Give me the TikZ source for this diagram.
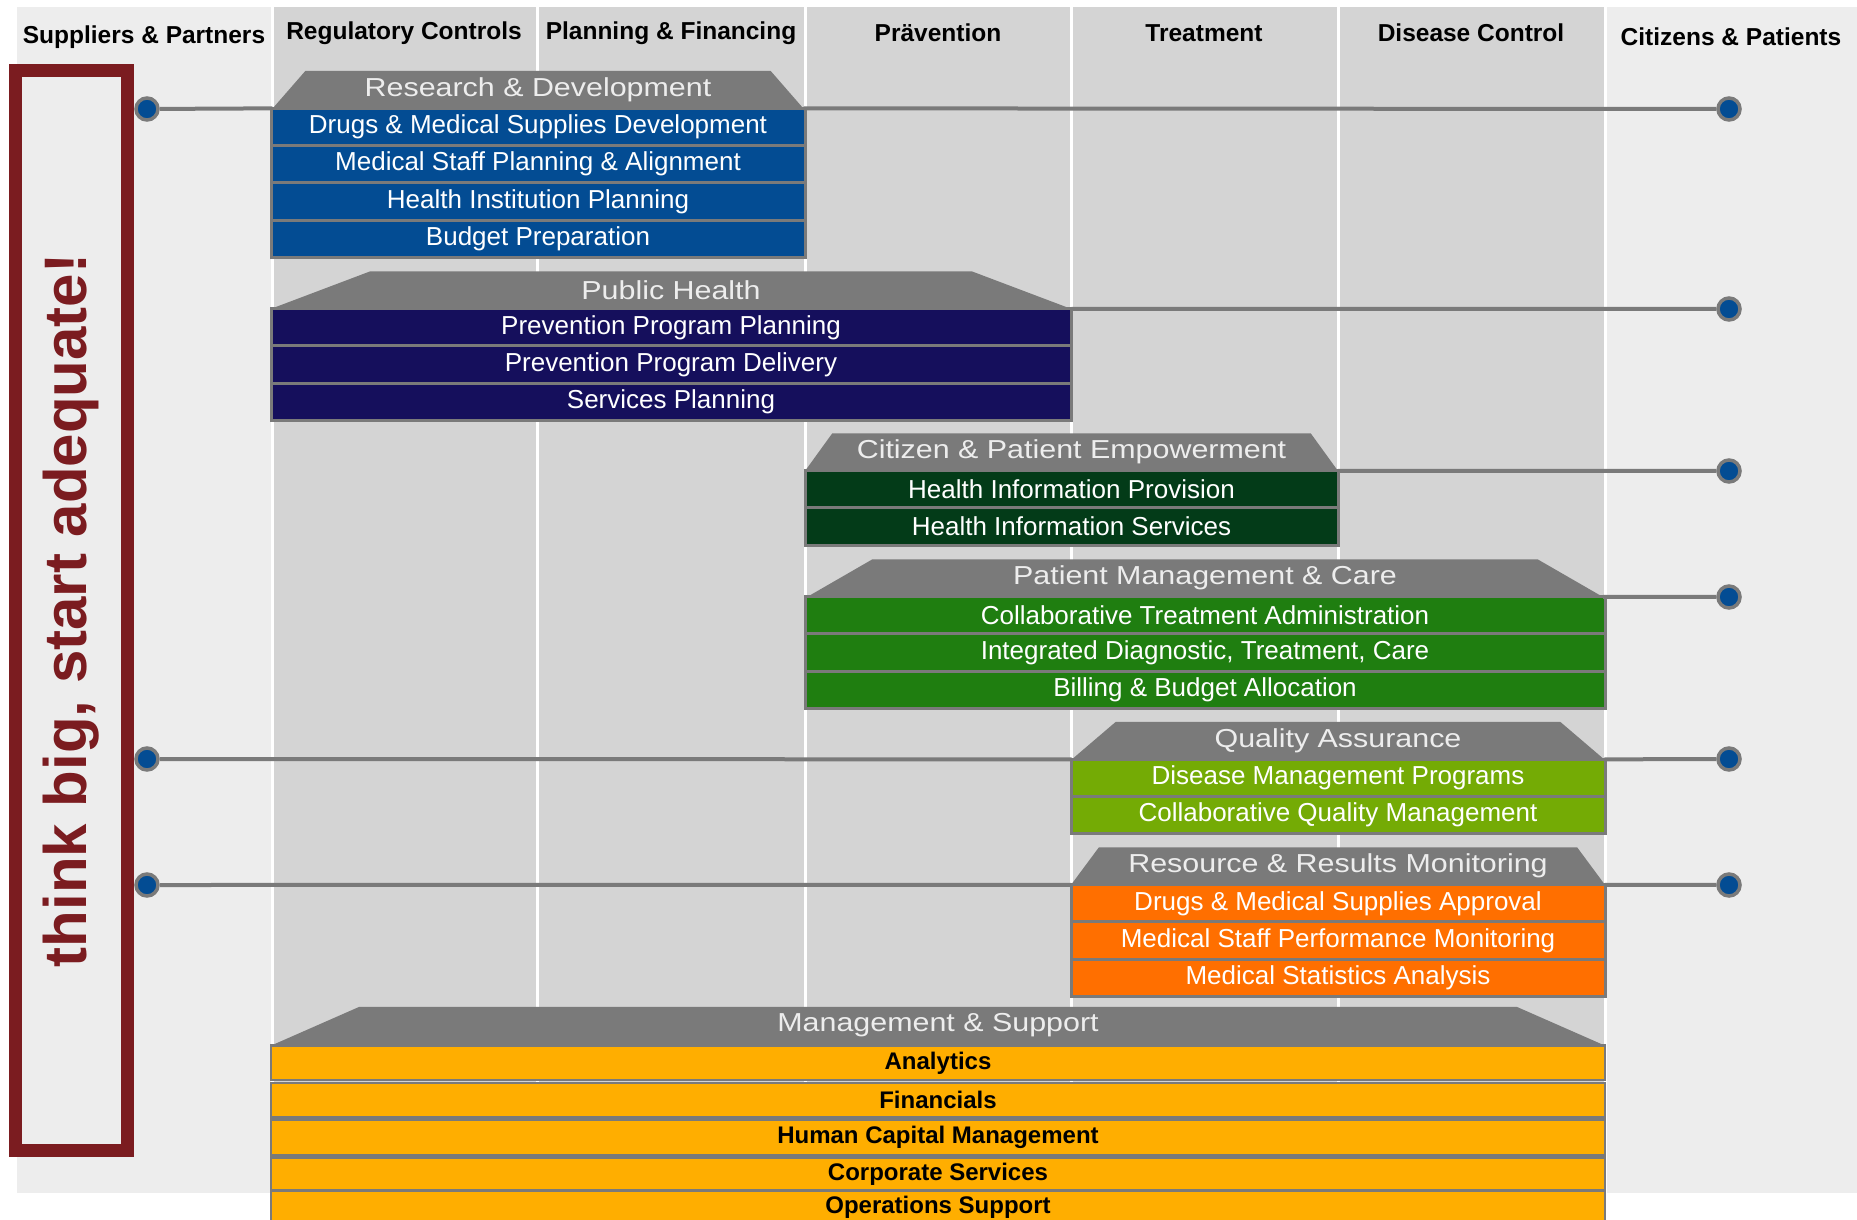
\documentclass[tikz,border=0pt]{standalone}
\usepackage{fontspec}
\setmainfont{Liberation Sans}
\newfontfamily\rooffont[FakeStretch=1.17]{Liberation Sans}
\usepackage{tikz}
\usetikzlibrary{shapes,arrows,calc}
\definecolor{lightbg}{HTML}{EDEDED}
\definecolor{darkbg}{HTML}{D4D4D4}
\definecolor{frame}{HTML}{7A7A7A}
\definecolor{wine}{HTML}{7B1C20}
\definecolor{rdblue}{HTML}{034C93}
\definecolor{phnavy}{HTML}{150F5C}
\definecolor{cpgreen}{HTML}{033B18}
\definecolor{pmgreen}{HTML}{1F7E10}
\definecolor{qagreen}{HTML}{74AB05}
\definecolor{rmorange}{HTML}{FF6F00}
\definecolor{msyellow}{HTML}{FFAE00}
\definecolor{logoblue}{HTML}{0A3066}
\tikzstyle{line} = [draw=frame, line width=4pt]
\tikzstyle{sepline} = [draw=white, line width=3pt]
\tikzstyle{head} = [font=\fontsize{24.5}{28}\selectfont\bfseries, inner sep=0pt]
\tikzstyle{roof} = [trapezium, trapezium stretches=true, fill=frame, inner sep=0pt, minimum height=37.3pt, text=lightbg, font=\fontsize{26}{30}\rooffont]
\tikzstyle{rowbox} = [draw=frame, line width=3pt, rectangle, text centered, inner sep=0pt, minimum height=37.3pt, text=white, font=\fontsize{26}{30}\selectfont, node distance=37.3pt]
\tikzstyle{msbox} = [rowbox, line width=2.4pt, minimum height=34.6pt, fill=msyellow, text=black, font=\fontsize{24}{28}\selectfont\bfseries]
\tikzstyle{dot} = [draw=frame, fill=rdblue, circle, line width=3.5pt, inner sep=0pt, minimum size=22pt]
\begin{document}
\begin{tikzpicture}[x=1pt, y=-1pt, node distance=37.3pt]
        \useasboundingbox (0,0) rectangle (1857,1220);
        % backgrounds and columns
        \fill[lightbg] (17,7) rectangle (1857,1193);
        \fill[darkbg] (272,7) rectangle (1605,1193);
        \path[sepline] (272,7) -- (272,1193);
        \path[sepline] (537.5,7) -- (537.5,1193);
        \path[sepline] (805,7) -- (805,1193);
        \path[sepline] (1071.5,7) -- (1071.5,1193);
        \path[sepline] (1338,7) -- (1338,1193);
        \path[sepline] (1605,7) -- (1605,1193);
        % column heads
        \node[head] (suppliers) at (144,37) {Suppliers \& Partners};
        \node[head] (regulatory) at (404,33) {Regulatory Controls};
        \node[head] (planning) at (671,33) {Planning \& Financing};
        \node[head] (praevention) at (938,33) {Prävention};
        \node[head] (treatment) at (1204,33) {Treatment};
        \node[head] (control) at (1471,33) {Disease Control};
        \node[head] (citizens) at (1731,37) {Citizens \& Patients};
        % slogan
        \node[draw=wine, fill=lightbg, line width=13pt, rotate=90, minimum width=1079pt, minimum height=111.5pt, inner sep=0pt, text=wine, font=\fontsize{60}{64}\selectfont\bfseries] (slogan) at (71.25,610.5) {think big, start adequate!};
        % research and development
        \node[roof, minimum width=533pt, trapezium left angle=45, trapezium right angle=45] (research) at (538,89.5) {Research \& Development};
        \node[rowbox, fill=rdblue, minimum width=534pt, below of=research] (drugs) {Drugs \& Medical Supplies Development};
        \node[rowbox, fill=rdblue, minimum width=534pt, below of=drugs] (staff) {Medical Staff Planning \& Alignment};
        \node[rowbox, fill=rdblue, minimum width=534pt, below of=staff] (institution) {Health Institution Planning};
        \node[rowbox, fill=rdblue, minimum width=534pt, below of=institution] (budget) {Budget Preparation};
        % public health
        \node[roof, minimum width=800pt, trapezium left angle=33, trapezium right angle=33] (public) at (671,290) {Public Health};
        \node[rowbox, fill=phnavy, minimum width=800pt, below of=public] (progplan) {Prevention Program Planning};
        \node[rowbox, fill=phnavy, minimum width=800pt, below of=progplan] (progdel) {Prevention Program Delivery};
        \node[rowbox, fill=phnavy, minimum width=800pt, below of=progdel] (services) {Services Planning};
        % empowerment
        \node[roof, minimum width=533pt, trapezium left angle=45, trapezium right angle=45] (empower) at (1071.5,452) {Citizen \& Patient Empowerment};
        \node[rowbox, fill=cpgreen, minimum width=533pt, below of=empower] (provision) {Health Information Provision};
        \node[rowbox, fill=cpgreen, minimum width=533pt, below of=provision] (infoserv) {Health Information Services};
        % patient management
        \node[roof, minimum width=800pt, trapezium left angle=33, trapezium right angle=33] (patient) at (1205,578) {Patient Management \& Care};
        \node[rowbox, fill=pmgreen, minimum width=800pt, below of=patient] (treatadm) {Collaborative Treatment Administration};
        \node[rowbox, fill=pmgreen, minimum width=800pt, below of=treatadm] (diagnostic) {Integrated Diagnostic, Treatment, Care};
        \node[rowbox, fill=pmgreen, minimum width=800pt, below of=diagnostic] (billing) {Billing \& Budget Allocation};
        % quality
        \node[roof, minimum width=534pt, trapezium left angle=45, trapezium right angle=45] (quality) at (1338,740.5) {Quality Assurance};
        \node[rowbox, fill=qagreen, minimum width=534pt, below of=quality] (disease) {Disease Management Programs};
        \node[rowbox, fill=qagreen, minimum width=534pt, below of=disease] (collab) {Collaborative Quality Management};
        % monitoring
        \node[roof, minimum width=534pt, trapezium left angle=45, trapezium right angle=45] (monitor) at (1338,866) {Resource \& Results Monitoring};
        \node[rowbox, fill=rmorange, minimum width=534pt, below of=monitor] (approval) {Drugs \& Medical Supplies Approval};
        \node[rowbox, fill=rmorange, minimum width=534pt, below of=approval] (performance) {Medical Staff Performance Monitoring};
        \node[rowbox, fill=rmorange, minimum width=534pt, below of=performance] (statistics) {Medical Statistics Analysis};
        % management and support
        \node[roof, minimum width=1334pt, trapezium left angle=45, trapezium right angle=45] (support) at (938,1025.5) {Management \& Support};
        \node[msbox, minimum width=1334pt, below of=support] (analytics) {Analytics};
        \node[msbox, minimum width=1334pt, below of=analytics] (financials) {Financials};
        \node[msbox, minimum width=1334pt, below of=financials] (humancap) {Human Capital Management};
        \node[msbox, minimum width=1334pt, below of=humancap] (corporate) {Corporate Services};
        \node[msbox, minimum width=1334pt, below of=corporate, node distance=33pt] (operations) {Operations Support};
        % dots
        \node[dot] (leftrd) at (147,109) {};
        \node[dot] (leftqa) at (147,759) {};
        \node[dot] (leftrm) at (147,885) {};
        \node[dot] (rightrd) at (1729,109) {};
        \node[dot] (rightph) at (1729,309) {};
        \node[dot] (rightcp) at (1729,471) {};
        \node[dot] (rightpm) at (1729,597) {};
        \node[dot] (rightqa) at (1729,759) {};
        \node[dot] (rightrm) at (1729,885) {};
        \path[line] (leftrd) -- (research.bottom left corner);
        \path[line] (leftqa) -- (quality.bottom left corner);
        \path[line] (leftrm) -- (monitor.bottom left corner);
        \path[line] (research.bottom right corner) -- (rightrd);
        \path[line] (public.bottom right corner) -- (rightph);
        \path[line] (empower.bottom right corner) -- (rightcp);
        \path[line] (patient.bottom right corner) -- (rightpm);
        \path[line] (quality.bottom right corner) -- (rightqa);
        \path[line] (monitor.bottom right corner) -- (rightrm);
\end{tikzpicture}
\end{document}
